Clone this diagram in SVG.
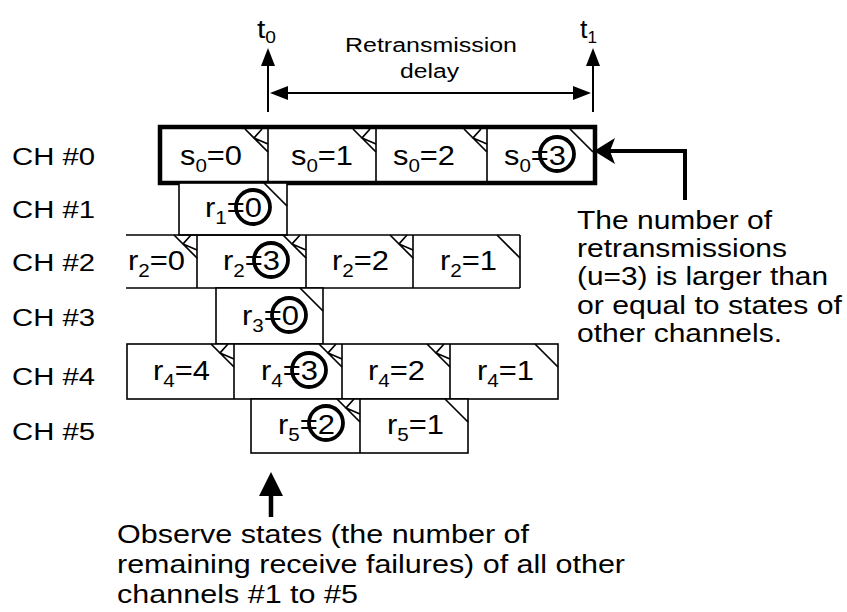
<svg xmlns="http://www.w3.org/2000/svg" xmlns:xlink="http://www.w3.org/1999/xlink" width="847" height="612" viewBox="0 0 847 612">
<style>
text{font-family:"Liberation Sans",Arial,Helvetica,sans-serif;fill:#000}
.lbl{font-size:23px}
.cell{font-size:27px}
.sub{font-size:18px}
.ann{font-size:26px}
.annr{font-size:25px}
.top{font-size:20px}
.box{fill:#fff;stroke:#000;stroke-width:1.6}
.thick{fill:none;stroke:#000;stroke-width:4.5}
.ln{stroke:#000;stroke-width:1.6;fill:none}
.corner{stroke:#000;stroke-width:1.7;fill:none}
.ring{fill:none;stroke:#000;stroke-width:3.8}
.conn{stroke:#000;fill:none}
.head{fill:#000;stroke:none}
</style>
<defs>
<g id="cd" class="corner"><path d="M-23,0 L0,23"/></g>
<g id="ch" class="corner"><path d="M-23,0 L0,23 M-6,0 L-14,9 L0,15"/></g>
</defs>
<rect width="847" height="612" fill="#fff"/>

<g id="labels">
<text class="lbl" x="12" y="165" textLength="83" lengthAdjust="spacingAndGlyphs">CH #0</text>
<text class="lbl" x="12" y="218" textLength="83" lengthAdjust="spacingAndGlyphs">CH #1</text>
<text class="lbl" x="12" y="271" textLength="83" lengthAdjust="spacingAndGlyphs">CH #2</text>
<text class="lbl" x="12" y="326" textLength="83" lengthAdjust="spacingAndGlyphs">CH #3</text>
<text class="lbl" x="12" y="385" textLength="83" lengthAdjust="spacingAndGlyphs">CH #4</text>
<text class="lbl" x="12" y="440" textLength="83" lengthAdjust="spacingAndGlyphs">CH #5</text>
</g>

<g id="ch0">
<rect class="box" x="160" y="127" width="435" height="56"/>
<path class="ln" d="M268,127V183M376,127V183M487,127V183"/>
<use href="#ch" x="268" y="129"/><use href="#ch" x="376" y="129"/><use href="#ch" x="487" y="129"/><use href="#cd" x="593" y="129"/>
<rect class="thick" x="160" y="127" width="435" height="56"/>
<text class="cell" x="180" y="165" textLength="62" lengthAdjust="spacingAndGlyphs">s<tspan class="sub" dy="7">0</tspan><tspan dy="-7">=0</tspan></text>
<text class="cell" x="291" y="165" textLength="62" lengthAdjust="spacingAndGlyphs">s<tspan class="sub" dy="7">0</tspan><tspan dy="-7">=1</tspan></text>
<text class="cell" x="393" y="165" textLength="62" lengthAdjust="spacingAndGlyphs">s<tspan class="sub" dy="7">0</tspan><tspan dy="-7">=2</tspan></text>
<text class="cell" x="504" y="165" textLength="62" lengthAdjust="spacingAndGlyphs">s<tspan class="sub" dy="7">0</tspan><tspan dy="-7">=3</tspan></text>
<circle class="ring" cx="557" cy="154" r="17"/>
</g>

<g id="ch1">
<rect class="box" x="179" y="183" width="108" height="52"/>
<use href="#cd" x="287" y="183"/>
<text class="cell" x="205" y="217" textLength="57" lengthAdjust="spacingAndGlyphs">r<tspan class="sub" dy="7">1</tspan><tspan dy="-7">=0</tspan></text>
<circle class="ring" cx="253" cy="207" r="17"/>
</g>

<g id="ch2">
<path class="ln" d="M126,235H520M126,288H520M197,235V288M306,235V288M413,235V288M520,235V288"/>
<use href="#ch" x="197" y="235"/><use href="#ch" x="306" y="235"/><use href="#ch" x="413" y="235"/><use href="#cd" x="520" y="235"/>
<text class="cell" x="128" y="270" textLength="57" lengthAdjust="spacingAndGlyphs">r<tspan class="sub" dy="7">2</tspan><tspan dy="-7">=0</tspan></text>
<text class="cell" x="223" y="270" textLength="57" lengthAdjust="spacingAndGlyphs">r<tspan class="sub" dy="7">2</tspan><tspan dy="-7">=3</tspan></text>
<text class="cell" x="332" y="270" textLength="57" lengthAdjust="spacingAndGlyphs">r<tspan class="sub" dy="7">2</tspan><tspan dy="-7">=2</tspan></text>
<text class="cell" x="440" y="270" textLength="57" lengthAdjust="spacingAndGlyphs">r<tspan class="sub" dy="7">2</tspan><tspan dy="-7">=1</tspan></text>
<circle class="ring" cx="271" cy="260" r="17"/>
</g>

<g id="ch3">
<rect class="box" x="216" y="288" width="107" height="56"/>
<use href="#cd" x="323" y="288"/>
<text class="cell" x="242" y="325" textLength="57" lengthAdjust="spacingAndGlyphs">r<tspan class="sub" dy="7">3</tspan><tspan dy="-7">=0</tspan></text>
<circle class="ring" cx="289" cy="315" r="17"/>
</g>

<g id="ch4">
<rect class="box" x="127" y="344" width="431" height="55"/>
<path class="ln" d="M234,344V399M342,344V399M450,344V399"/>
<use href="#ch" x="234" y="344"/><use href="#ch" x="342" y="344"/><use href="#ch" x="450" y="344"/><use href="#cd" x="558" y="344"/>
<text class="cell" x="153" y="380" textLength="57" lengthAdjust="spacingAndGlyphs">r<tspan class="sub" dy="7">4</tspan><tspan dy="-7">=4</tspan></text>
<text class="cell" x="261" y="380" textLength="57" lengthAdjust="spacingAndGlyphs">r<tspan class="sub" dy="7">4</tspan><tspan dy="-7">=3</tspan></text>
<text class="cell" x="368" y="380" textLength="57" lengthAdjust="spacingAndGlyphs">r<tspan class="sub" dy="7">4</tspan><tspan dy="-7">=2</tspan></text>
<text class="cell" x="477" y="380" textLength="57" lengthAdjust="spacingAndGlyphs">r<tspan class="sub" dy="7">4</tspan><tspan dy="-7">=1</tspan></text>
<circle class="ring" cx="309" cy="370" r="17"/>
</g>

<g id="ch5">
<rect class="box" x="251" y="399" width="217" height="54"/>
<path class="ln" d="M360,399V453"/>
<use href="#ch" x="360" y="399"/><use href="#cd" x="468" y="399"/>
<text class="cell" x="278" y="434" textLength="57" lengthAdjust="spacingAndGlyphs">r<tspan class="sub" dy="7">5</tspan><tspan dy="-7">=2</tspan></text>
<text class="cell" x="387" y="434" textLength="57" lengthAdjust="spacingAndGlyphs">r<tspan class="sub" dy="7">5</tspan><tspan dy="-7">=1</tspan></text>
<circle class="ring" cx="326" cy="423" r="17"/>
</g>

<g id="timeline">
<text x="257" y="38" style="font-size:25px" textLength="19" lengthAdjust="spacingAndGlyphs">t<tspan dy="5" style="font-size:16px">0</tspan></text>
<text x="580" y="38" style="font-size:25px" textLength="17" lengthAdjust="spacingAndGlyphs">t<tspan dy="5" style="font-size:16px">1</tspan></text>
<text class="top" x="345" y="52" textLength="172" lengthAdjust="spacingAndGlyphs">Retransmission</text>
<text class="top" x="400" y="78" textLength="59" lengthAdjust="spacingAndGlyphs">delay</text>
</g>

<g id="note-right">
<text class="annr" x="577" y="229" textLength="195" lengthAdjust="spacingAndGlyphs">The number of</text>
<text class="annr" x="577" y="257.2" textLength="210" lengthAdjust="spacingAndGlyphs">retransmissions</text>
<text class="annr" x="577" y="285.4" textLength="251" lengthAdjust="spacingAndGlyphs">(u=3) is larger than</text>
<text class="annr" x="577" y="313.6" textLength="265" lengthAdjust="spacingAndGlyphs">or equal to states of</text>
<text class="annr" x="577" y="341.8" textLength="205" lengthAdjust="spacingAndGlyphs">other channels.</text>
</g>

<g id="note-bottom">
<text class="ann" x="117" y="543" textLength="412" lengthAdjust="spacingAndGlyphs">Observe states (the number of</text>
<text class="ann" x="117" y="573" textLength="508" lengthAdjust="spacingAndGlyphs">remaining receive failures) of all other</text>
<text class="ann" x="117" y="603" textLength="241" lengthAdjust="spacingAndGlyphs">channels #1 to #5</text>
</g>

<g id="connectors">
<path class="conn" stroke-width="2" d="M268,112V62"/>
<polygon class="head" points="268,48 261,66 275,66"/>
<path class="conn" stroke-width="2" d="M593,112V62"/>
<polygon class="head" points="593,48 586,66 600,66"/>
<path class="conn" stroke-width="2" d="M284,93H577"/>
<polygon class="head" points="270,93 288,86 288,100"/>
<polygon class="head" points="591,93 573,86 573,100"/>
<path class="conn" stroke-width="4" d="M685,200V151H608"/>
<path class="head" d="M594,151 L615,138 L610,151 L615,164 Z"/>
<path class="conn" stroke-width="4.5" d="M271,517V492"/>
<polygon class="head" points="271,472 259,496 283,496"/>
</g>
</svg>
